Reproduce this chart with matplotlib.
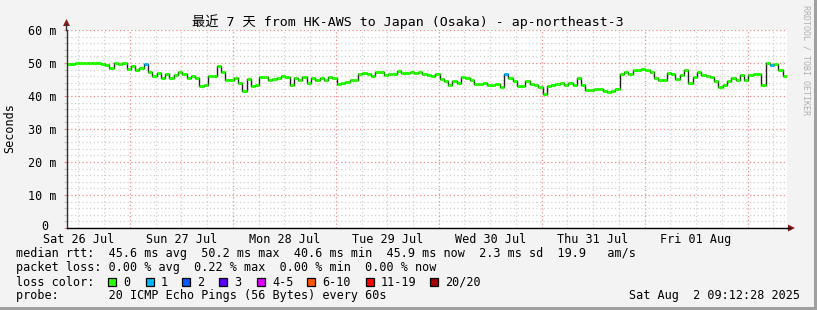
import numpy as np
import matplotlib
matplotlib.use("Agg")
import matplotlib.pyplot as plt
from matplotlib.patches import Polygon, Rectangle

# median rtt (ms), one value per hour, starting Sat 26 Jul 09:12
rtt = [49.8, 49.7, 49.9, 50.0, 50.1, 50.1, 50.0, 50.0, 49.6, 49.5, 48.6, 50.1, 49.6, 50.1,
       48.2, 49.0, 47.8, 48.6, 49.8, 47.4, 46.0, 47.0, 45.6, 46.8, 45.4, 46.5, 47.2, 46.8,
       45.6, 46.2, 45.5, 43.0, 43.4, 46.2, 46.0, 49.2, 47.4, 45.0, 44.8, 45.6, 44.0, 41.4,
       45.2, 43.0, 43.4, 45.8, 45.7, 45.0, 45.2, 45.6, 46.2, 45.8, 43.4, 45.6, 44.8, 45.8,
       43.8, 45.6, 44.8, 45.6, 45.0, 45.9, 45.6, 43.6, 43.8, 44.2, 45.0, 45.0, 46.8, 47.0,
       46.6, 46.2, 47.2, 47.4, 46.4, 46.6, 46.8, 47.6, 47.0, 46.9, 47.2, 46.9, 47.3, 46.6,
       46.4, 46.2, 46.6, 45.2, 44.6, 43.2, 44.4, 44.0, 45.8, 45.6, 45.0, 43.6, 43.6, 43.8,
       43.2, 43.4, 43.6, 42.8, 46.6, 45.6, 44.4, 43.0, 43.0, 44.4, 43.6, 43.4, 42.6, 40.6,
       43.0, 43.4, 43.6, 44.0, 43.4, 44.0, 43.4, 45.4, 43.2, 41.8, 41.8, 42.0, 42.2, 41.6,
       41.2, 41.6, 42.0, 46.6, 47.2, 46.6, 47.8, 48.0, 48.3, 48.0, 47.4, 45.6, 45.0, 44.8,
       47.0, 46.8, 45.2, 46.4, 48.0, 43.8, 45.8, 47.2, 46.4, 46.0, 45.8, 44.4, 42.6, 43.4,
       44.4, 45.6, 45.0, 46.4, 44.8, 46.4, 46.8, 46.8, 43.2, 50.0, 49.4, 49.8, 48.0, 46.0]
# hours with one lost ping
loss_hours = [18, 102, 164]

start = 9 + 12 / 60 + 28 / 3600   # hours since Sat 26 Jul 00:00
end = start + 168
days = ["Sat 26 Jul", "Sun 27 Jul", "Mon 28 Jul", "Tue 29 Jul",
        "Wed 30 Jul", "Thu 31 Jul", "Fri 01 Aug"]
yticks = [0, 10, 20, 30, 40, 50, 60]
ylabels = ["", "10 m", "20 m", "30 m", "40 m", "50 m", "60 m"]

loss_names = ["0", "1", "2", "3", "4-5", "6-10", "11-19", "20/20"]
loss_cols = ["#26ff00", "#00b8ff", "#0059ff", "#5e00ff", "#dd00ff",
             "#ff5500", "#ff0000", "#a10000"]

W, H = 817, 310
mono = "DejaVu Sans Mono"
fs = 8.5

fig = plt.figure(figsize=(W / 100, H / 100), dpi=100, facecolor="#f3f3f3")
L, R, T, B = 66.5, 787, 30, 228
ax = fig.add_axes([L / W, (H - B) / H, (R - L) / W, (B - T) / H])
ax.set_facecolor("white")
ax.set_xlim(start, end)
ax.set_ylim(0, 60)

# grid
ax.set_yticks(yticks)
ax.set_yticks(np.arange(0, 61, 2), minor=True)
ax.set_xticks(np.arange(24, 177, 24))
ax.set_xticks(np.arange(12, 178, 6), minor=True)
ax.grid(which="minor", color="#d0d0d0", ls=(0, (1, 2)), lw=0.9)
ax.grid(which="major", color="#f08a8a", ls=(0, (1, 2)), lw=0.9)
ax.set_axisbelow(True)
ax.set_yticklabels(ylabels, family=mono, fontsize=fs)
ax.set_xticklabels([])
ax.tick_params(which="both", length=2, width=0.8, color="#c8c8c8", pad=5)
ax.tick_params(axis="y", which="major", color="#f08a8a")
ax.tick_params(axis="x", which="both", length=0)
for s in ["top", "right"]:
    ax.spines[s].set_visible(False)
ax.spines["left"].set_color("#303030")
ax.spines["bottom"].set_color("black")
ax.spines["left"].set_linewidth(1)
ax.spines["bottom"].set_linewidth(1)

# day labels at noon
for i, d in enumerate(days):
    ax.text(12 + 24 * i, -0.06, d, transform=ax.get_xaxis_transform(),
            ha="center", va="center", family=mono, fontsize=fs)

# median line
edges = start + np.arange(len(rtt) + 1)
vals = np.array(rtt)
ax.step(edges, np.append(vals, vals[-1]), where="post", color="#202020", lw=1.0)
cols = [loss_cols[1] if i in loss_hours else loss_cols[0] for i in range(len(rtt))]
ax.hlines(vals, edges[:-1], edges[1:], colors=cols, lw=2.2)

# overlay in pixel coordinates
ov = fig.add_axes([0, 0, 1, 1])
ov.set_xlim(0, W)
ov.set_ylim(H, 0)
ov.axis("off")
ov.patch.set_alpha(0)

# zero label of the y axis
ov.text(48.5, 226.5, "0", ha="right", va="center", family=mono, fontsize=fs)

# frame shading
ov.add_patch(Rectangle((W - 3, 0), 3, H, color="#a0a0a0", lw=0))
ov.add_patch(Rectangle((0, H - 3), W, 3, color="#a0a0a0", lw=0))

# axis extensions and arrows
ov.plot([L, L], [T, 24], color="#303030", lw=1)
ov.plot([R, 790], [B, B], color="black", lw=1)
ov.add_patch(Polygon([[L - 3.5, 26], [L + 3.5, 26], [L, 19]], color="#8b1a1a", lw=0))
ov.add_patch(Polygon([[788, B - 3.5], [788, B + 3.5], [795, B]], color="#8b1a1a", lw=0))

# titles
ov.text(408, 22, "最近 7 天 from HK-AWS to Japan (Osaka) - ap-northeast-3",
        ha="center", va="center", fontsize=9.5,
        family=[mono, "Noto Sans CJK SC"])
ov.text(10, 128, "Seconds", rotation=90, ha="center", va="center",
        family=mono, fontsize=fs)
ov.text(806.5, 5, "RRDTOOL / TOBI OETIKER", rotation=270, ha="center", va="top",
        family=mono, fontsize=6, color="#b0b0b0")

# legend
x0 = 16
ov.text(x0, 254, "median rtt:  45.6 ms avg  50.2 ms max  40.6 ms min  45.9 ms now  2.3 ms sd  19.9   am/s",
        ha="left", va="center", family=mono, fontsize=fs)
ov.text(x0, 268, "packet loss: 0.00 % avg  0.22 % max  0.00 % min  0.00 % now",
        ha="left", va="center", family=mono, fontsize=fs)
ov.text(x0, 282, "loss color:", ha="left", va="center", family=mono, fontsize=fs)
box_x = [108, 146, 182, 219, 257, 307, 366, 430]
for bx, name, c in zip(box_x, loss_names, loss_cols):
    ov.add_patch(Rectangle((bx, 278), 8, 8, facecolor=c, edgecolor="black", lw=0.9))
    ov.text(bx + 15, 282, name, ha="left", va="center", family=mono, fontsize=fs)
ov.text(x0, 296, "probe:       20 ICMP Echo Pings (56 Bytes) every 60s",
        ha="left", va="center", family=mono, fontsize=fs)
ov.text(800, 296, "Sat Aug  2 09:12:28 2025", ha="right", va="center",
        family=mono, fontsize=fs)

fig.savefig("out.png", dpi=100, facecolor=fig.get_facecolor())
